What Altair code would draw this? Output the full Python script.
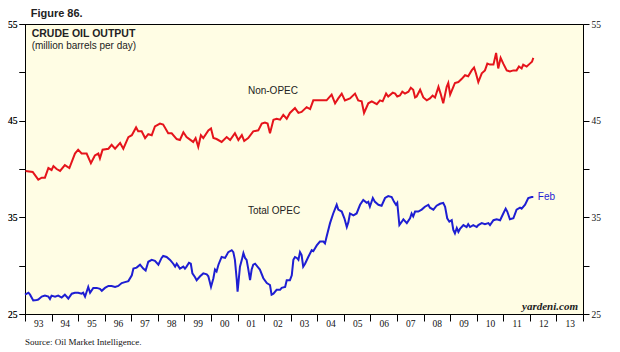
import altair as alt
import pandas as pd

# ---- data ----
non_opec_t = [1993.02, 1993.29, 1993.5, 1993.63, 1993.75, 1993.88, 1994.0, 1994.07, 1994.19, 1994.32,
              1994.5, 1994.67, 1994.88, 1995.0, 1995.13, 1995.32, 1995.48, 1995.63, 1995.76, 1995.82,
              1995.92, 1996.14, 1996.26, 1996.39, 1996.58, 1996.7, 1996.89, 1997.02, 1997.18, 1997.26,
              1997.39, 1997.52, 1997.64, 1997.77, 1997.89, 1998.08, 1998.2, 1998.39, 1998.52, 1998.71,
              1998.83, 1998.96, 1999.08, 1999.33, 1999.42, 1999.52, 1999.62, 1999.71, 1999.9, 2000.0,
              2000.09, 2000.21, 2000.4, 2000.59, 2000.72, 2000.9, 2001.03, 2001.16, 2001.25, 2001.4,
              2001.59, 2001.78, 2001.91, 2002.03, 2002.13, 2002.22, 2002.35, 2002.47, 2002.6, 2002.72,
              2002.85, 2002.97, 2003.16, 2003.29, 2003.41, 2003.6, 2003.73, 2003.85, 2004.04, 2004.23,
              2004.35, 2004.54, 2004.67, 2004.79, 2004.92, 2005.04, 2005.23, 2005.42, 2005.54, 2005.67,
              2005.76, 2005.92, 2006.05, 2006.24, 2006.36, 2006.46, 2006.59, 2006.67, 2006.84, 2006.93,
              2007.01, 2007.11, 2007.2, 2007.3, 2007.43, 2007.52, 2007.61, 2007.68, 2007.74, 2007.87,
              2007.99, 2008.12, 2008.24, 2008.34, 2008.43, 2008.56, 2008.64, 2008.74, 2008.87, 2008.93,
              2009.0, 2009.12, 2009.18, 2009.31, 2009.43, 2009.56, 2009.68, 2009.81, 2009.9, 2009.97,
              2010.06, 2010.19, 2010.31, 2010.4, 2010.5, 2010.63, 2010.73, 2010.81, 2010.9, 2011.0,
              2011.13, 2011.25, 2011.38, 2011.5, 2011.59, 2011.69, 2011.75, 2011.88, 2012.0, 2012.08,
              2012.13]
non_opec_v = [39.8, 39.7, 38.9, 39.1, 39.1, 40.1, 39.9, 40.3, 40.0, 39.8,
              40.4, 40.1, 41.6, 42.0, 41.6, 41.6, 40.6, 41.4, 41.6, 41.1,
              42.0, 42.1, 42.5, 42.1, 42.7, 42.1, 43.3, 43.5, 44.3, 43.9,
              43.9, 43.2, 43.6, 43.5, 44.4, 44.7, 44.6, 43.7, 43.7, 43.1,
              43.0, 43.8, 43.3, 42.8, 43.2, 42.3, 43.5, 43.2, 44.0, 44.2,
              43.2, 43.1, 42.8, 43.3, 43.0, 43.7, 43.0, 43.5, 42.9, 43.2,
              43.9, 44.0, 44.7, 44.8, 44.7, 43.7, 45.1, 45.2, 45.1, 45.6,
              45.2, 45.8, 46.3, 45.8, 45.9, 46.4, 46.2, 47.1, 47.1, 47.1,
              47.1, 47.7, 46.8, 47.3, 47.8, 47.1, 47.3, 47.8, 47.1, 47.0,
              45.8, 46.8, 47.0, 46.7, 47.1, 47.0, 47.8, 47.5, 47.9, 47.8,
              47.5, 47.6, 48.0, 47.8, 48.0, 48.4, 48.2, 47.4, 47.5, 48.2,
              47.4, 47.1, 47.3, 47.6, 47.4, 48.5, 47.8, 46.8, 48.5, 48.9,
              47.7, 48.5, 48.9, 49.0, 49.3, 49.7, 49.6, 50.2, 50.5, 49.9,
              49.0, 49.9, 50.2, 50.9, 50.8, 50.8, 52.0, 50.4, 51.5, 50.9,
              50.2, 50.1, 50.2, 50.2, 50.6, 50.4, 50.8, 50.6, 50.9, 51.1,
              51.5]

opec_t = [1993.0, 1993.13, 1993.19, 1993.31, 1993.44, 1993.5, 1993.63, 1993.75, 1993.88, 1993.94,
          1994.0, 1994.13, 1994.25, 1994.38, 1994.5, 1994.63, 1994.76, 1994.88, 1995.0, 1995.13,
          1995.19, 1995.26, 1995.32, 1995.38, 1995.45, 1995.57, 1995.7, 1995.82, 1995.89, 1996.01,
          1996.14, 1996.26, 1996.39, 1996.51, 1996.64, 1996.76, 1996.89, 1997.02, 1997.08, 1997.2,
          1997.33, 1997.45, 1997.54, 1997.64, 1997.77, 1997.89, 1998.02, 1998.14, 1998.2, 1998.33,
          1998.46, 1998.58, 1998.65, 1998.71, 1998.83, 1998.96, 1999.02, 1999.08, 1999.17, 1999.24,
          1999.3, 1999.4, 1999.46, 1999.59, 1999.71, 1999.84, 1999.9, 2000.0, 2000.09, 2000.15,
          2000.21, 2000.28, 2000.4, 2000.53, 2000.65, 2000.78, 2000.84, 2000.9, 2000.97, 2001.0,
          2001.09, 2001.16, 2001.22, 2001.28, 2001.34, 2001.4, 2001.47, 2001.53, 2001.59, 2001.66,
          2001.78, 2001.84, 2001.97, 2002.1, 2002.22, 2002.28, 2002.35, 2002.47, 2002.6, 2002.66,
          2002.79, 2002.85, 2002.97, 2003.04, 2003.1, 2003.16, 2003.23, 2003.29, 2003.35, 2003.41,
          2003.47, 2003.54, 2003.66, 2003.79, 2003.85, 2003.98, 2004.1, 2004.23, 2004.29, 2004.35,
          2004.48, 2004.6, 2004.73, 2004.79, 2004.92, 2005.02, 2005.11, 2005.17, 2005.23, 2005.36,
          2005.48, 2005.61, 2005.73, 2005.86, 2005.92, 2005.98, 2006.09, 2006.17, 2006.3, 2006.42,
          2006.55, 2006.67, 2006.8, 2006.89, 2006.96, 2007.01, 2007.09, 2007.18, 2007.24, 2007.37,
          2007.49, 2007.55, 2007.61, 2007.68, 2007.8, 2007.93, 2008.05, 2008.18, 2008.24, 2008.37,
          2008.49, 2008.62, 2008.74, 2008.81, 2008.89, 2008.97, 2009.06, 2009.12, 2009.18, 2009.25,
          2009.31, 2009.37, 2009.5, 2009.62, 2009.68, 2009.75, 2009.87, 2010.0, 2010.06, 2010.19,
          2010.31, 2010.44, 2010.5, 2010.63, 2010.75, 2010.88, 2011.0, 2011.09, 2011.15, 2011.25,
          2011.38, 2011.5, 2011.63, 2011.69, 2011.82, 2011.94, 2012.07, 2012.13]
opec_v = [27.0, 27.2, 27.0, 26.4, 26.45, 26.5, 26.8, 26.9, 26.8, 26.55,
          26.9, 26.8, 26.9, 26.7, 27.0, 26.6, 27.1, 27.2, 27.2, 27.1,
          27.2, 26.8, 27.3, 27.8, 27.2, 27.7, 27.7, 27.6, 27.4, 27.7,
          27.9, 27.9, 27.8, 27.9, 28.2, 28.3, 28.4, 29.0, 29.7, 29.8,
          30.1, 29.7, 29.5, 30.4, 30.6, 30.5, 30.1, 30.8, 31.0, 30.9,
          30.6, 30.2, 29.9, 30.2, 29.7, 29.9, 29.7, 29.9, 30.3, 30.2,
          29.2, 28.8, 28.5, 28.9, 29.2, 29.1, 28.9, 27.8, 28.7, 29.6,
          29.4, 30.1, 30.9, 30.8, 31.4, 31.6, 31.4, 30.6, 28.5, 27.3,
          29.9, 30.6, 31.3, 30.8, 30.6, 29.7, 28.5, 29.6, 30.1, 30.2,
          29.8, 29.6, 28.7, 28.2, 28.0, 27.0, 27.1, 27.5, 27.5, 27.7,
          27.8, 28.5, 28.5, 29.0, 30.6, 30.9, 30.8, 30.6, 31.4, 31.1,
          29.9, 30.2, 30.9, 31.6, 31.5, 32.1, 32.5, 32.5, 32.3, 33.0,
          34.4, 35.4, 36.3, 35.8, 35.6, 34.9, 34.0, 34.5, 35.4, 35.2,
          35.4, 36.3, 36.8, 36.5, 36.6, 36.1, 37.0, 36.6, 36.3, 36.2,
          37.0, 37.2, 37.1, 36.6, 36.3, 36.5, 34.2, 34.55, 34.8, 34.4,
          34.9, 35.4, 35.1, 35.6, 35.6, 35.8, 36.1, 36.3, 36.0, 35.8,
          36.2, 36.4, 36.5, 36.1, 34.9, 34.55, 34.7, 33.7, 33.35, 33.9,
          33.5, 33.8, 34.2, 34.0, 34.3, 34.0, 34.2, 34.0, 34.2, 34.4,
          34.3, 34.4, 34.2, 34.7, 34.8, 34.7, 35.4, 35.9, 35.6, 34.8,
          34.9, 35.8, 36.0, 35.9, 36.3, 37.0, 37.1, 37.1]

ann_text = ["Non-OPEC", "Total OPEC", "Feb"]
ann_t = [2001.39, 2001.39, 2012.30]
ann_v = [48.07, 35.69, 37.14]

year_ticks = list(range(1993, 2015))
y_ticks = [25, 30, 35, 40, 45, 50, 55]

RED = "#E5141B"
BLUE = "#1E1ED2"
SANS = "Liberation Sans"
SERIF = "Liberation Serif"

df_red = pd.DataFrame({"t": non_opec_t, "v": non_opec_v})
df_blue = pd.DataFrame({"t": opec_t, "v": opec_v})
df_ann = pd.DataFrame({"label": ann_text, "t": ann_t, "v": ann_v})

xscale = alt.Scale(domain=[1993, 2014], nice=False, zero=False)
yscale = alt.Scale(domain=[25, 55], nice=False, zero=False)

x_axis = alt.Axis(
    values=year_ticks, title=None, grid=False, tickSize=7, tickColor="black",
    domainColor="black", labelOffset=13.3, labelAlign="center", labelPadding=-3,
    labelExpr="datum.value >= 2014 ? '' : slice('0' + (datum.value % 100), -2)",
    labelFont=SERIF, labelFontSize=9.5, labelColor="#111", labelOverlap=False,
    labelFlush=False, labelBound=False,
)


def y_axis(orient):
    return alt.Axis(
        orient=orient, values=y_ticks, title=None, grid=False, tickSize=6,
        tickColor="black", domainColor="black", labelPadding=2,
        labelExpr="datum.value % 10 == 5 ? datum.label : ''",
        labelFont=SERIF, labelFontSize=9.5, labelColor="#111", labelOverlap=False,
        labelFlush=False,
    )


X = alt.X("t:Q", scale=xscale, axis=x_axis)

red = alt.Chart(df_red).mark_line(color=RED, strokeWidth=2).encode(
    x=X,
    y=alt.Y("v:Q", scale=yscale, axis=y_axis("left")),
)
blue = alt.Chart(df_blue).mark_line(color=BLUE, strokeWidth=2).encode(
    x=X,
    y=alt.Y("v:Q", scale=yscale, axis=y_axis("right")),
)

ann = alt.Chart(df_ann).mark_text(
    align="left", baseline="middle", font=SANS, fontSize=10
).encode(
    x=X,
    y=alt.Y("v:Q", scale=yscale, axis=y_axis("left")),
    text="label:N",
    color=alt.condition("datum.label == 'Feb'", alt.value(BLUE), alt.value("#222")),
)


def txt(s, x, y, **kw):
    return alt.Chart(pd.DataFrame({"label": [s]})).mark_text(
        align="left", baseline="alphabetic", **kw
    ).encode(x=alt.value(x), y=alt.value(y), text="label:N")


fig = txt("Figure 86.", 5.7, -7, font=SANS, fontSize=11, fontWeight="bold", color="#222")
title1 = txt("CRUDE OIL OUTPUT", 6.7, 13.3, font=SANS, fontSize=10.5, fontWeight="bold", color="#222")
title2 = txt("(million barrels per day)", 6.7, 24.5, font=SANS, fontSize=10, color="#222")
source = txt("Source: Oil Market Intelligence.", 0, 321, font=SERIF, fontSize=9, color="#111")
brand = alt.Chart(pd.DataFrame({"label": ["yardeni.com"]})).mark_text(
    align="right", baseline="alphabetic", font=SERIF, fontSize=11,
    fontStyle="italic", fontWeight="bold", color="#222"
).encode(x=alt.value(553), y=alt.value(286), text="label:N")

chart = alt.layer(red, blue, ann, fig, title1, title2, source, brand).resolve_scale(
    y="shared", x="shared"
).resolve_axis(y="independent").properties(
    width=558, height=290,
    autosize=alt.AutoSizeParams(type="none"),
    padding={"left": 25, "top": 24, "right": 37, "bottom": 38},
    background="white",
).configure_view(fill="#FFFDE4", stroke="black", strokeWidth=1)

chart.save("out.html", embed_options={"renderer": "svg", "actions": False})
